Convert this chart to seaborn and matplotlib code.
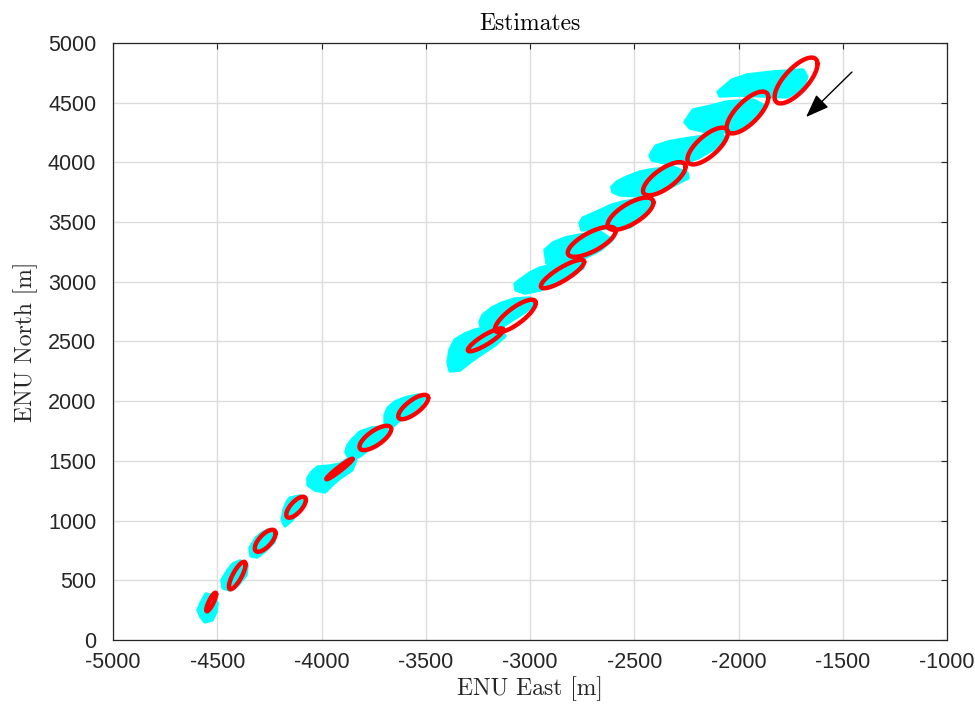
import numpy as np
import pandas as pd
import matplotlib
matplotlib.use("Agg")
import matplotlib.pyplot as plt
import seaborn as sns

# ---------------- data ----------------
ell_cx = [-4529, -4404, -4270, -4122, -3914, -3742, -3560, -3213, -3070, -2844,
          -2704, -2518, -2356, -2148, -1957, -1724]
ell_cy = [318, 540, 831, 1112, 1432, 1692, 1951, 2514, 2714, 3065,
          3335, 3570, 3863, 4137, 4418, 4686]
ell_hx = [24, 40, 50, 47, 63, 76, 72, 85, 98, 104, 115, 110, 102, 97, 100, 103]
ell_hy = [78, 115, 92, 88, 86, 102, 102, 96, 136, 119, 126, 135, 139, 154, 175, 192]
ell_rho = [0.85, 0.80, 0.68, 0.70, 0.97, 0.72, 0.75, 0.88, 0.80, 0.85,
           0.72, 0.70, 0.72, 0.72, 0.72, 0.72]

cloud1 = [(-4554, 385), (-4516, 368), (-4501, 310), (-4506, 235), (-4525, 168), (-4559, 151),
          (-4578, 193), (-4592, 251), (-4578, 310)]
cloud2 = [(-4391, 662), (-4357, 628), (-4362, 544), (-4401, 461), (-4439, 419), (-4472, 436),
          (-4477, 503), (-4448, 586), (-4424, 637)]
cloud3 = [(-4257, 921), (-4218, 896), (-4228, 821), (-4271, 745), (-4309, 695), (-4338, 704),
          (-4343, 771), (-4314, 854), (-4285, 896)]
cloud4 = [(-4151, 1189), (-4103, 1206), (-4089, 1147), (-4113, 1072), (-4142, 1005), (-4175, 955),
          (-4189, 1005), (-4180, 1089), (-4165, 1156)]
cloud5 = [(-4017, 1449), (-3959, 1457), (-3911, 1474), (-3863, 1524), (-3835, 1508), (-3854, 1424),
          (-3911, 1357), (-3950, 1298), (-3983, 1240), (-4031, 1256), (-4065, 1298), (-4065, 1357),
          (-4046, 1407)]
cloud6 = [(-3854, 1675), (-3815, 1742), (-3758, 1776), (-3695, 1784), (-3681, 1734), (-3719, 1675),
          (-3767, 1608), (-3815, 1541), (-3863, 1508), (-3883, 1575), (-3873, 1633)]
cloud7 = [(-3681, 1943), (-3648, 1993), (-3600, 2027), (-3537, 2052), (-3504, 2035), (-3528, 1968),
          (-3576, 1901), (-3624, 1843), (-3662, 1784), (-3695, 1809), (-3695, 1884)]
cloud8 = [(-3360, 2513), (-3312, 2563), (-3264, 2596), (-3216, 2613), (-3144, 2596), (-3120, 2546),
          (-3168, 2471), (-3240, 2387), (-3288, 2328), (-3336, 2261), (-3384, 2253), (-3393, 2328),
          (-3384, 2429)]
cloud9 = [(-3225, 2722), (-3182, 2781), (-3134, 2822), (-3072, 2856), (-3000, 2864), (-2976, 2822),
          (-3024, 2747), (-3086, 2680), (-3144, 2613), (-3192, 2563), (-3230, 2596), (-3240, 2663)]
cloud10 = [(-3048, 3015), (-3000, 3074), (-2952, 3116), (-2880, 3141), (-2808, 3166), (-2760, 3166),
           (-2746, 3116), (-2808, 3057), (-2880, 2990), (-2952, 2931), (-3024, 2906), (-3067, 2931),
           (-3072, 2982)]
cloud11 = [(-2928, 3266), (-2890, 3325), (-2832, 3367), (-2760, 3392), (-2664, 3417), (-2607, 3350),
           (-2664, 3266), (-2760, 3183), (-2856, 3124), (-2919, 3157)]
cloud12 = [(-2760, 3492), (-2746, 3534), (-2679, 3585), (-2607, 3643), (-2554, 3668), (-2439, 3702),
           (-2415, 3685), (-2439, 3576), (-2520, 3459), (-2616, 3451), (-2751, 3434)]
cloud13 = [(-2602, 3752), (-2607, 3794), (-2583, 3836), (-2535, 3878), (-2472, 3920), (-2424, 3936),
           (-2314, 3961), (-2247, 3911), (-2242, 3869), (-2281, 3836), (-2353, 3769), (-2472, 3719),
           (-2568, 3727)]
cloud14 = [(-2424, 4062), (-2396, 4137), (-2338, 4171), (-2257, 4196), (-2161, 4221), (-2079, 4238),
           (-2065, 4188), (-2127, 4104), (-2194, 4037), (-2257, 3995), (-2353, 3995), (-2415, 4020)]
cloud15 = [(-2257, 4338), (-2218, 4439), (-2151, 4464), (-2055, 4506), (-1931, 4523), (-1883, 4481),
           (-1887, 4414), (-1945, 4330), (-2041, 4255), (-2151, 4255), (-2233, 4288)]
cloud16 = [(-2098, 4590), (-2031, 4690), (-1959, 4732), (-1835, 4757), (-1691, 4774), (-1672, 4715),
           (-1691, 4623), (-1767, 4548), (-1993, 4564), (-2089, 4556)]
clouds = [cloud1, cloud2, cloud3, cloud4, cloud5, cloud6, cloud7, cloud8, cloud9, cloud10,
          cloud11, cloud12, cloud13, cloud14, cloud15, cloud16]

arrow_tail = (-1456, 4757)
arrow_head = (-1676, 4380)

x_ticks = [-5000, -4500, -4000, -3500, -3000, -2500, -2000, -1500, -1000]
y_ticks = [0, 500, 1000, 1500, 2000, 2500, 3000, 3500, 4000, 4500, 5000]

# ---------------- build ellipse table ----------------
t = np.linspace(0, 2 * np.pi, 200)
rows = []
for k, (cx, cy, hx, hy, r) in enumerate(zip(ell_cx, ell_cy, ell_hx, ell_hy, ell_rho)):
    xs = cx + hx * np.cos(t)
    ys = cy + hy * (r * np.cos(t) + np.sqrt(1 - r ** 2) * np.sin(t))
    for xv, yv in zip(xs, ys):
        rows.append((k, xv, yv))
ell_df = pd.DataFrame(rows, columns=["id", "east", "north"])

# ---------------- plot ----------------
sns.set_theme(style="white")
plt.rcParams["font.family"] = ["Liberation Sans", "DejaVu Sans"]

fig = plt.figure(figsize=(9.75, 7.13), dpi=100)
ax = fig.add_axes([0.1159, 0.1024, 0.8554, 0.8373])

for c in clouds:
    xs, ys = zip(*c)
    ax.fill(xs, ys, facecolor="#00ffff", edgecolor="#00ffff", linewidth=2.5,
            joinstyle="round", zorder=2)

sns.lineplot(data=ell_df, x="east", y="north", units="id", estimator=None, sort=False,
             color="#ff0000", linewidth=3.2, ax=ax, zorder=3, legend=False)

ax.annotate("", xy=arrow_head, xytext=arrow_tail,
            arrowprops=dict(arrowstyle="-|>,head_length=1.2,head_width=0.45",
                            mutation_scale=12, color="black", lw=1.0,
                            shrinkA=0, shrinkB=0), zorder=4)

ax.set_xlim(-5000, -1000)
ax.set_ylim(0, 5000)
ax.set_xticks(x_ticks)
ax.set_yticks(y_ticks)
ax.set_xticklabels([str(v) for v in x_ticks])
ax.set_yticklabels([str(v) for v in y_ticks])
ax.grid(True, color="#dcdcdc", linewidth=1.0, zorder=0)
ax.set_axisbelow(True)

for s in ax.spines.values():
    s.set_color("#262626")
    s.set_linewidth(0.9)
    s.set_visible(True)

ax.tick_params(axis="both", which="both", direction="in", length=4, width=0.8,
               colors="#262626", labelsize=15.5, top=True, right=True)
ax.tick_params(axis="x", pad=9)
ax.tick_params(axis="y", pad=12)

ax.set_title("Estimates", fontfamily="cmr10", fontsize=17, pad=9, color="black")
ax.set_xlabel("ENU East [m]", fontfamily="cmr10", fontsize=17, labelpad=2, color="#262626")
ax.set_ylabel("ENU North [m]", fontfamily="cmr10", fontsize=17, labelpad=7, color="#262626")

fig.savefig("out.png", dpi=100)
